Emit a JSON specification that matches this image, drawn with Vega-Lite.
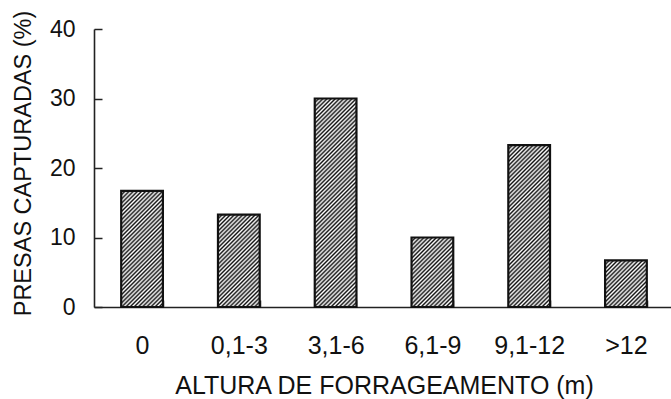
{
  "$schema": "https://vega.github.io/schema/vega-lite/v6.json",
  "width": 577,
  "height": 278,
  "autosize": "none",
  "padding": {"left": 94, "top": 29, "right": 0, "bottom": 92},
  "background": "white",
  "params": [
    {"name": "hatch", "value": [
      {"offset":0,"color":"#111"},{"offset":0.008,"color":"#fff"},{"offset":0.016,"color":"#111"},{"offset":0.024,"color":"#fff"},{"offset":0.032,"color":"#111"},{"offset":0.04,"color":"#fff"},{"offset":0.048,"color":"#111"},{"offset":0.056,"color":"#fff"},{"offset":0.064,"color":"#111"},{"offset":0.072,"color":"#fff"},
      {"offset":0.08,"color":"#111"},{"offset":0.088,"color":"#fff"},{"offset":0.096,"color":"#111"},{"offset":0.104,"color":"#fff"},{"offset":0.112,"color":"#111"},{"offset":0.12,"color":"#fff"},{"offset":0.128,"color":"#111"},{"offset":0.136,"color":"#fff"},{"offset":0.144,"color":"#111"},{"offset":0.152,"color":"#fff"},
      {"offset":0.16,"color":"#111"},{"offset":0.168,"color":"#fff"},{"offset":0.176,"color":"#111"},{"offset":0.184,"color":"#fff"},{"offset":0.192,"color":"#111"},{"offset":0.2,"color":"#fff"},{"offset":0.208,"color":"#111"},{"offset":0.216,"color":"#fff"},{"offset":0.224,"color":"#111"},{"offset":0.232,"color":"#fff"},
      {"offset":0.24,"color":"#111"},{"offset":0.248,"color":"#fff"},{"offset":0.256,"color":"#111"},{"offset":0.264,"color":"#fff"},{"offset":0.272,"color":"#111"},{"offset":0.28,"color":"#fff"},{"offset":0.288,"color":"#111"},{"offset":0.296,"color":"#fff"},{"offset":0.304,"color":"#111"},{"offset":0.312,"color":"#fff"},
      {"offset":0.32,"color":"#111"},{"offset":0.328,"color":"#fff"},{"offset":0.336,"color":"#111"},{"offset":0.344,"color":"#fff"},{"offset":0.352,"color":"#111"},{"offset":0.36,"color":"#fff"},{"offset":0.368,"color":"#111"},{"offset":0.376,"color":"#fff"},{"offset":0.384,"color":"#111"},{"offset":0.392,"color":"#fff"},
      {"offset":0.4,"color":"#111"},{"offset":0.408,"color":"#fff"},{"offset":0.416,"color":"#111"},{"offset":0.424,"color":"#fff"},{"offset":0.432,"color":"#111"},{"offset":0.44,"color":"#fff"},{"offset":0.448,"color":"#111"},{"offset":0.456,"color":"#fff"},{"offset":0.464,"color":"#111"},{"offset":0.472,"color":"#fff"},
      {"offset":0.48,"color":"#111"},{"offset":0.488,"color":"#fff"},{"offset":0.496,"color":"#111"},{"offset":0.504,"color":"#fff"},{"offset":0.512,"color":"#111"},{"offset":0.52,"color":"#fff"},{"offset":0.528,"color":"#111"},{"offset":0.536,"color":"#fff"},{"offset":0.544,"color":"#111"},{"offset":0.552,"color":"#fff"},
      {"offset":0.56,"color":"#111"},{"offset":0.568,"color":"#fff"},{"offset":0.576,"color":"#111"},{"offset":0.584,"color":"#fff"},{"offset":0.592,"color":"#111"},{"offset":0.6,"color":"#fff"},{"offset":0.608,"color":"#111"},{"offset":0.616,"color":"#fff"},{"offset":0.624,"color":"#111"},{"offset":0.632,"color":"#fff"},
      {"offset":0.64,"color":"#111"},{"offset":0.648,"color":"#fff"},{"offset":0.656,"color":"#111"},{"offset":0.664,"color":"#fff"},{"offset":0.672,"color":"#111"},{"offset":0.68,"color":"#fff"},{"offset":0.688,"color":"#111"},{"offset":0.696,"color":"#fff"},{"offset":0.704,"color":"#111"},{"offset":0.712,"color":"#fff"},
      {"offset":0.72,"color":"#111"},{"offset":0.728,"color":"#fff"},{"offset":0.736,"color":"#111"},{"offset":0.744,"color":"#fff"},{"offset":0.752,"color":"#111"},{"offset":0.76,"color":"#fff"},{"offset":0.768,"color":"#111"},{"offset":0.776,"color":"#fff"},{"offset":0.784,"color":"#111"},{"offset":0.792,"color":"#fff"},
      {"offset":0.8,"color":"#111"},{"offset":0.808,"color":"#fff"},{"offset":0.816,"color":"#111"},{"offset":0.824,"color":"#fff"},{"offset":0.832,"color":"#111"},{"offset":0.84,"color":"#fff"},{"offset":0.848,"color":"#111"},{"offset":0.856,"color":"#fff"},{"offset":0.864,"color":"#111"},{"offset":0.872,"color":"#fff"},
      {"offset":0.88,"color":"#111"},{"offset":0.888,"color":"#fff"},{"offset":0.896,"color":"#111"},{"offset":0.904,"color":"#fff"},{"offset":0.912,"color":"#111"},{"offset":0.92,"color":"#fff"},{"offset":0.928,"color":"#111"},{"offset":0.936,"color":"#fff"},{"offset":0.944,"color":"#111"},{"offset":0.952,"color":"#fff"},
      {"offset":0.96,"color":"#111"},{"offset":0.968,"color":"#fff"},{"offset":0.976,"color":"#111"},{"offset":0.984,"color":"#fff"},{"offset":0.992,"color":"#111"},{"offset":1,"color":"#fff"}
    ]}
  ],
  "data": {"values": [
    {"altura": "0", "pct": 16.7},
    {"altura": "0,1-3", "pct": 13.3},
    {"altura": "3,1-6", "pct": 30},
    {"altura": "6,1-9", "pct": 10},
    {"altura": "9,1-12", "pct": 23.3},
    {"altura": ">12", "pct": 6.7}
  ]},
  "mark": {
    "type": "bar",
    "stroke": "#111",
    "strokeWidth": 2.2,
    "fill": {"expr": "{gradient:'linear',x1:0,y1:0,x2:260*bandwidth('x')/(pow(bandwidth('x'),2)+pow(scale('y',0)-scale('y',datum.pct),2)),y2:260*(scale('y',0)-scale('y',datum.pct))/(pow(bandwidth('x'),2)+pow(scale('y',0)-scale('y',datum.pct),2)),stops:hatch}"}
  },
  "encoding": {
    "x": {
      "field": "altura", "type": "nominal", "sort": null,
      "scale": {"paddingInner": 0.569, "paddingOuter": 0.281, "range": [0, 580]},
      "axis": {
        "title": "ALTURA DE FORRAGEAMENTO (m)",
        "labelAngle": 0,
        "tickBand": "extent",
        "tickSize": -7,
        "labelPadding": 33,
        "labelFontSize": 25,
        "titleFontSize": 25,
        "titlePadding": 15
      }
    },
    "y": {
      "field": "pct", "type": "quantitative", "stack": null,
      "scale": {"domain": [0, 40], "nice": false},
      "axis": {
        "title": "PRESAS CAPTURADAS (%)",
        "values": [0, 10, 20, 30, 40],
        "grid": false,
        "tickSize": -8,
        "labelPadding": 27,
        "labelFontSize": 23,
        "titleFontSize": 23.5,
        "titlePadding": 14,
        "titleY": 134
      }
    }
  },
  "config": {
    "view": {"stroke": null},
    "axis": {
      "labelFont": "Liberation Sans",
      "titleFont": "Liberation Sans",
      "titleFontWeight": "normal",
      "labelColor": "#111",
      "titleColor": "#111",
      "domainColor": "#222",
      "domainWidth": 1.6,
      "tickColor": "#222",
      "tickWidth": 1.5,
      "grid": false
    }
  }
}
